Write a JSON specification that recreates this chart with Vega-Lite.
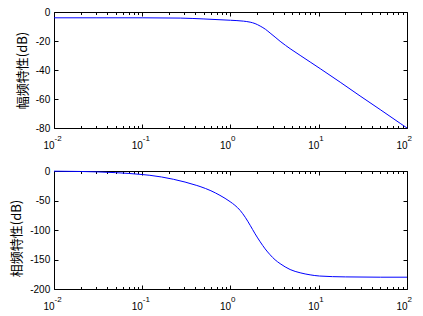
{
  "$schema": "https://vega.github.io/schema/vega-lite/v6.json",
  "padding": {"left": 10, "top": 6, "right": 5, "bottom": 5},
  "spacing": 14,
  "datasets": {
    "mag": [
      {"w": 0.01, "v": -4.0}, {"w": 0.03, "v": -4.0}, {"w": 0.1, "v": -4.0}, {"w": 0.27, "v": -4.2},
      {"w": 0.5, "v": -4.8}, {"w": 1.0, "v": -5.7}, {"w": 1.4, "v": -6.3}, {"w": 1.67, "v": -7.0},
      {"w": 1.9, "v": -8.0}, {"w": 2.17, "v": -9.7}, {"w": 2.5, "v": -12.0}, {"w": 2.81, "v": -14.5},
      {"w": 3.2, "v": -17.3}, {"w": 3.65, "v": -20.2}, {"w": 4.2, "v": -23.0}, {"w": 4.74, "v": -25.3},
      {"w": 6.15, "v": -29.9}, {"w": 8.0, "v": -34.5}, {"w": 10.4, "v": -39.1}, {"w": 17.5, "v": -48.4},
      {"w": 29.4, "v": -57.9}, {"w": 49.7, "v": -67.3}, {"w": 83.8, "v": -76.8}, {"w": 100, "v": -80.0}
    ],
    "phase": [
      {"w": 0.01, "v": -0.3}, {"w": 0.02, "v": -0.8}, {"w": 0.05, "v": -2.8}, {"w": 0.1, "v": -6.0},
      {"w": 0.122, "v": -7.3}, {"w": 0.225, "v": -14.0}, {"w": 0.415, "v": -24.5}, {"w": 0.452, "v": -26.3},
      {"w": 0.6, "v": -33.5}, {"w": 0.76, "v": -41.3}, {"w": 0.99, "v": -52.0}, {"w": 1.12, "v": -58.0},
      {"w": 1.29, "v": -67.0}, {"w": 1.47, "v": -78.5}, {"w": 1.67, "v": -92.0}, {"w": 1.9, "v": -106.5},
      {"w": 2.17, "v": -120.0}, {"w": 2.47, "v": -132.0}, {"w": 2.81, "v": -142.0}, {"w": 3.2, "v": -150.5},
      {"w": 3.65, "v": -157.0}, {"w": 4.74, "v": -167.0}, {"w": 6.15, "v": -172.5}, {"w": 7.98, "v": -176.0},
      {"w": 10.2, "v": -178.0}, {"w": 20, "v": -179.5}, {"w": 50, "v": -180.0}, {"w": 100, "v": -180.0}
    ]
  },
  "config": {
    "font": "Liberation Sans",
    "view": {"stroke": "#000000", "strokeWidth": 1},
    "axis": {
      "domain": false, "grid": false,
      "labelFont": "Liberation Sans", "labelFontSize": 10, "labelColor": "#000000",
      "labelFlush": false, "labelOverlap": false,
      "tickColor": "#000000", "tickWidth": 1,
      "titleFont": "Noto Sans CJK SC", "titleFontSize": 13, "titleFontWeight": "normal", "titleColor": "#000000"
    }
  },
  "vconcat": [
    {
      "width": 353, "height": 116,
      "data": {"name": "mag"},
      "resolve": {"axis": {"x": "independent", "y": "independent"}},
      "layer": [
        {
          "mark": {"type": "line", "color": "#0000ff", "strokeWidth": 1, "interpolate": "monotone"},
          "encoding": {
            "x": {"field": "w", "type": "quantitative", "scale": {"type": "log", "domain": [0.01, 100], "nice": false},
              "axis": {"orient": "bottom", "values": [0.01, 0.1, 1, 10, 100], "ticks": false, "labelPadding": 12, "labelExpr": "'10'", "labelAlign": "right", "labelDx": 1.5, "title": null}},
            "y": {"field": "v", "type": "quantitative", "scale": {"domain": [-80, 0], "nice": false, "zero": false},
              "axis": {"orient": "left", "values": [0, -20, -40, -60, -80], "ticks": false, "labelPadding": 4.3, "labelExpr": "'' + datum.value", "title": "幅频特性(dB)", "titlePadding": 6}}
          }
        },
        {
          "mark": {"type": "line", "opacity": 0},
          "encoding": {
            "x": {"field": "w", "type": "quantitative", "scale": {"type": "log", "domain": [0.01, 100], "nice": false},
              "axis": {"orient": "bottom", "values": [0.01, 0.1, 1, 10, 100], "ticks": false, "labelPadding": 6, "labelFontSize": 8, "labelAlign": "left", "labelDx": 2.7, "labelExpr": "datum.value < 0.05 ? '-2' : datum.value < 0.5 ? '-1' : datum.value < 5 ? '0' : datum.value < 50 ? '1' : '2'", "title": null}},
            "y": {"field": "v", "type": "quantitative", "scale": {"domain": [-80, 0], "nice": false, "zero": false},
              "axis": {"orient": "left", "values": [0, -20, -40, -60, -80], "tickSize": -4, "labels": false, "title": null}}
          }
        },
        {
          "mark": {"type": "line", "opacity": 0},
          "encoding": {
            "x": {"field": "w", "type": "quantitative", "scale": {"type": "log", "domain": [0.01, 100], "nice": false},
              "axis": {"orient": "bottom", "values": [0.01, 0.1, 1, 10, 100], "tickSize": -4, "labels": false, "title": null}},
            "y": {"field": "v", "type": "quantitative", "scale": {"domain": [-80, 0], "nice": false, "zero": false},
              "axis": {"orient": "right", "values": [0, -20, -40, -60, -80], "tickSize": -4, "labels": false, "title": null}}
          }
        },
        {
          "mark": {"type": "line", "opacity": 0},
          "encoding": {
            "x": {"field": "w", "type": "quantitative", "scale": {"type": "log", "domain": [0.01, 100], "nice": false},
              "axis": {"orient": "bottom", "values": [0.02, 0.03, 0.04, 0.05, 0.06, 0.07, 0.08, 0.09, 0.2, 0.3, 0.4, 0.5, 0.6, 0.7, 0.8, 0.9, 2, 3, 4, 5, 6, 7, 8, 9, 20, 30, 40, 50, 60, 70, 80, 90], "tickSize": -2.5, "labels": false, "title": null}},
            "y": {"field": "v", "type": "quantitative", "scale": {"domain": [-80, 0], "nice": false, "zero": false}, "axis": null}
          }
        },
        {
          "mark": {"type": "line", "opacity": 0},
          "encoding": {
            "x": {"field": "w", "type": "quantitative", "scale": {"type": "log", "domain": [0.01, 100], "nice": false},
              "axis": {"orient": "top", "values": [0.01, 0.1, 1, 10, 100], "tickSize": -4, "labels": false, "title": null}},
            "y": {"field": "v", "type": "quantitative", "scale": {"domain": [-80, 0], "nice": false, "zero": false}, "axis": null}
          }
        },
        {
          "mark": {"type": "line", "opacity": 0},
          "encoding": {
            "x": {"field": "w", "type": "quantitative", "scale": {"type": "log", "domain": [0.01, 100], "nice": false},
              "axis": {"orient": "top", "values": [0.02, 0.03, 0.04, 0.05, 0.06, 0.07, 0.08, 0.09, 0.2, 0.3, 0.4, 0.5, 0.6, 0.7, 0.8, 0.9, 2, 3, 4, 5, 6, 7, 8, 9, 20, 30, 40, 50, 60, 70, 80, 90], "tickSize": -2.5, "labels": false, "title": null}},
            "y": {"field": "v", "type": "quantitative", "scale": {"domain": [-80, 0], "nice": false, "zero": false}, "axis": null}
          }
        }
      ]
    },
    {
      "width": 353, "height": 118,
      "data": {"name": "phase"},
      "resolve": {"axis": {"x": "independent", "y": "independent"}},
      "layer": [
        {
          "mark": {"type": "line", "color": "#0000ff", "strokeWidth": 1, "interpolate": "monotone"},
          "encoding": {
            "x": {"field": "w", "type": "quantitative", "scale": {"type": "log", "domain": [0.01, 100], "nice": false},
              "axis": {"orient": "bottom", "values": [0.01, 0.1, 1, 10, 100], "ticks": false, "labelPadding": 12, "labelExpr": "'10'", "labelAlign": "right", "labelDx": 1.5, "title": null}},
            "y": {"field": "v", "type": "quantitative", "scale": {"domain": [-200, 0], "nice": false, "zero": false},
              "axis": {"orient": "left", "values": [0, -50, -100, -150, -200], "ticks": false, "labelPadding": 4.3, "labelExpr": "'' + datum.value", "title": "相频特性(dB)", "titlePadding": 6, "titleY": 67}}
          }
        },
        {
          "mark": {"type": "line", "opacity": 0},
          "encoding": {
            "x": {"field": "w", "type": "quantitative", "scale": {"type": "log", "domain": [0.01, 100], "nice": false},
              "axis": {"orient": "bottom", "values": [0.01, 0.1, 1, 10, 100], "ticks": false, "labelPadding": 6, "labelFontSize": 8, "labelAlign": "left", "labelDx": 2.7, "labelExpr": "datum.value < 0.05 ? '-2' : datum.value < 0.5 ? '-1' : datum.value < 5 ? '0' : datum.value < 50 ? '1' : '2'", "title": null}},
            "y": {"field": "v", "type": "quantitative", "scale": {"domain": [-200, 0], "nice": false, "zero": false},
              "axis": {"orient": "left", "values": [0, -50, -100, -150, -200], "tickSize": -4, "labels": false, "title": null}}
          }
        },
        {
          "mark": {"type": "line", "opacity": 0},
          "encoding": {
            "x": {"field": "w", "type": "quantitative", "scale": {"type": "log", "domain": [0.01, 100], "nice": false},
              "axis": {"orient": "bottom", "values": [0.01, 0.1, 1, 10, 100], "tickSize": -4, "labels": false, "title": null}},
            "y": {"field": "v", "type": "quantitative", "scale": {"domain": [-200, 0], "nice": false, "zero": false},
              "axis": {"orient": "right", "values": [0, -50, -100, -150, -200], "tickSize": -4, "labels": false, "title": null}}
          }
        },
        {
          "mark": {"type": "line", "opacity": 0},
          "encoding": {
            "x": {"field": "w", "type": "quantitative", "scale": {"type": "log", "domain": [0.01, 100], "nice": false},
              "axis": {"orient": "bottom", "values": [0.02, 0.03, 0.04, 0.05, 0.06, 0.07, 0.08, 0.09, 0.2, 0.3, 0.4, 0.5, 0.6, 0.7, 0.8, 0.9, 2, 3, 4, 5, 6, 7, 8, 9, 20, 30, 40, 50, 60, 70, 80, 90], "tickSize": -2.5, "labels": false, "title": null}},
            "y": {"field": "v", "type": "quantitative", "scale": {"domain": [-200, 0], "nice": false, "zero": false}, "axis": null}
          }
        },
        {
          "mark": {"type": "line", "opacity": 0},
          "encoding": {
            "x": {"field": "w", "type": "quantitative", "scale": {"type": "log", "domain": [0.01, 100], "nice": false},
              "axis": {"orient": "top", "values": [0.01, 0.1, 1, 10, 100], "tickSize": -4, "labels": false, "title": null}},
            "y": {"field": "v", "type": "quantitative", "scale": {"domain": [-200, 0], "nice": false, "zero": false}, "axis": null}
          }
        },
        {
          "mark": {"type": "line", "opacity": 0},
          "encoding": {
            "x": {"field": "w", "type": "quantitative", "scale": {"type": "log", "domain": [0.01, 100], "nice": false},
              "axis": {"orient": "top", "values": [0.02, 0.03, 0.04, 0.05, 0.06, 0.07, 0.08, 0.09, 0.2, 0.3, 0.4, 0.5, 0.6, 0.7, 0.8, 0.9, 2, 3, 4, 5, 6, 7, 8, 9, 20, 30, 40, 50, 60, 70, 80, 90], "tickSize": -2.5, "labels": false, "title": null}},
            "y": {"field": "v", "type": "quantitative", "scale": {"domain": [-200, 0], "nice": false, "zero": false}, "axis": null}
          }
        }
      ]
    }
  ]
}
